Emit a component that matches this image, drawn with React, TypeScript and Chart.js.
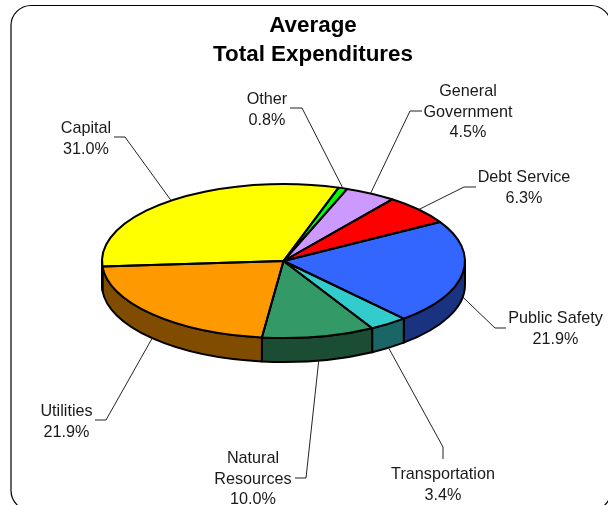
import React, { useEffect, useRef } from "react";
import { Chart, registerables } from "chart.js";

Chart.register(...registerables);

// ---- data ----
const titleLines = ["Average", "Total Expenditures"];
const categories = [
  "Public Safety",
  "Transportation",
  "Natural Resources",
  "Utilities",
  "Capital",
  "Other",
  "General Government",
  "Debt Service",
];
const categoryLines = [
  ["Public Safety"],
  ["Transportation"],
  ["Natural", "Resources"],
  ["Utilities"],
  ["Capital"],
  ["Other"],
  ["General", "Government"],
  ["Debt Service"],
];
const shares = [21.9, 3.4, 10.0, 21.9, 31.0, 0.8, 4.5, 6.3];
const topColors = ["#3366FF", "#33CCCC", "#339966", "#FF9900", "#FFFF00", "#00FF00", "#CC99FF", "#FF0000"];
const sideColors = ["#1A3380", "#1A6666", "#1A4D33", "#804D00", "#808000", "#008000", "#664D80", "#800000"];

// ---- layout ----
const W = 608;
const H = 505;
const CX = 283.5;
const CY = 261;
const RX = 181.5;
const RY = 77;
const DEPTH = 24;
const TEXT_COLOR = "#1a1a1a";
const LABEL_FONT = '16.2px "Liberation Sans", Arial, sans-serif';
const TITLE_FONT = 'bold 22.4px "Liberation Sans", Arial, sans-serif';
const titleLayout = { x: 313, baselines: [32, 61] };
// label centre x, first baseline; leader elbow and end points
const callouts = [
  { x: 555.5, y: 323, elbow: [495, 328], end: [506, 328] },
  { x: 443, y: 479, elbow: [443, 447], end: [443, 459] },
  { x: 253, y: 463, elbow: [306, 478], end: [295, 478] },
  { x: 66.5, y: 416, elbow: [106, 420], end: [95, 420] },
  { x: 86, y: 133, elbow: [125, 137], end: [114, 137] },
  { x: 267, y: 104, elbow: [302, 108], end: [290, 108] },
  { x: 468, y: 96, elbow: [410, 111], end: [422, 111] },
  { x: 524, y: 182, elbow: [464, 187], end: [476, 187] },
];

const squash = {
  id: "squash",
  beforeDatasetsDraw(chart: any) {
    const ctx = chart.ctx;
    const arcs = chart.getDatasetMeta(0).data;
    // side wall of the disc, below the top face
    arcs.forEach((el: any, i: number) => {
      const s = Math.max(el.startAngle, 0);
      const e = Math.min(el.endAngle, Math.PI);
      if (s >= e) return;
      ctx.beginPath();
      ctx.ellipse(CX, CY, RX, RY, 0, s, e);
      ctx.ellipse(CX, CY + DEPTH, RX, RY, 0, e, s, true);
      ctx.closePath();
      ctx.fillStyle = sideColors[i];
      ctx.fill();
      ctx.lineWidth = 2;
      ctx.strokeStyle = "#000";
      ctx.lineJoin = "round";
      ctx.stroke();
    });
    // flatten the library's circular arcs into an ellipse
    ctx.save();
    ctx.translate(0, CY);
    ctx.scale(1, RY / RX);
    ctx.translate(0, -CY);
  },
  afterDatasetsDraw(chart: any) {
    const ctx = chart.ctx;
    ctx.restore();
    const arcs = chart.getDatasetMeta(0).data;
    ctx.strokeStyle = "#000";
    ctx.lineJoin = "round";
    ctx.lineWidth = 2;
    arcs.forEach((el: any) => {
      ctx.beginPath();
      ctx.moveTo(CX, CY);
      ctx.ellipse(CX, CY, RX, RY, 0, el.startAngle, el.endAngle);
      ctx.closePath();
      ctx.stroke();
    });
  },
};

const annotations = {
  id: "annotations",
  afterDraw(chart: any) {
    const ctx = chart.ctx;
    ctx.save();
    // frame
    ctx.beginPath();
    ctx.roundRect(11, 5.5, 600, 505, 20);
    ctx.strokeStyle = "#000";
    ctx.lineWidth = 1.2;
    ctx.stroke();
    // title
    ctx.fillStyle = "#000";
    ctx.textAlign = "center";
    ctx.textBaseline = "alphabetic";
    ctx.font = TITLE_FONT;
    titleLines.forEach((t, i) => ctx.fillText(t, titleLayout.x, titleLayout.baselines[i]));
    // leaders and labels
    const arcs = chart.getDatasetMeta(0).data;
    ctx.font = LABEL_FONT;
    arcs.forEach((el: any, i: number) => {
      const mid = (el.startAngle + el.endAngle) / 2;
      const c = callouts[i];
      const sx = CX + RX * Math.cos(mid);
      const sy = CY + RY * Math.sin(mid) + (Math.sin(mid) > 0 ? DEPTH : 0);
      ctx.beginPath();
      ctx.moveTo(sx, sy);
      ctx.lineTo(c.elbow[0], c.elbow[1]);
      ctx.lineTo(c.end[0], c.end[1]);
      ctx.strokeStyle = "#222";
      ctx.lineWidth = 1;
      ctx.stroke();
      ctx.fillStyle = TEXT_COLOR;
      const lines = [...categoryLines[i], shares[i].toFixed(1) + "%"];
      lines.forEach((t, k) => ctx.fillText(t, c.x, c.y + k * 20.5));
    });
    ctx.restore();
  },
};

export default function App() {
  const ref = useRef<HTMLCanvasElement | null>(null);
  useEffect(() => {
    const chart = new Chart(ref.current as HTMLCanvasElement, {
      type: "pie",
      data: {
        labels: categories,
        datasets: [
          {
            data: shares,
            backgroundColor: topColors,
            borderWidth: 0,
            clip: false,
          } as any,
        ],
      },
      options: {
        responsive: false,
        animation: false,
        rotation: 59.5,
        layout: {
          padding: {
            left: CX - RX,
            right: W - CX - RX,
            top: CY - RX,
            bottom: H - CY - RX,
          },
        },
        plugins: {
          legend: { display: false },
          tooltip: { enabled: false },
          title: { display: false },
        },
      },
      plugins: [squash, annotations],
    });
    return () => chart.destroy();
  }, []);
  return (
    <div style={{ position: "absolute", left: 0, top: 0, width: W, height: H, overflow: "hidden", background: "#fff" }}>
      <canvas ref={ref} width={W} height={H} style={{ display: "block" }} />
    </div>
  );
}
